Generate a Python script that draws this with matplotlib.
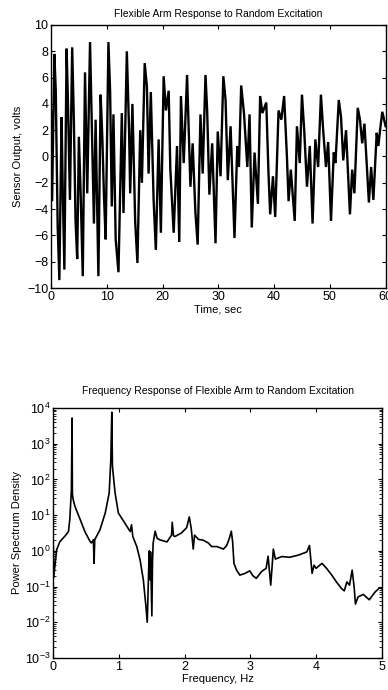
import matplotlib
matplotlib.use("Agg")
import matplotlib.pyplot as plt
from matplotlib.ticker import LogLocator, NullFormatter

plt.rcParams['font.family'] = ['Liberation Sans', 'DejaVu Sans']
plt.rcParams['mathtext.fontset'] = 'custom'
plt.rcParams['mathtext.rm'] = 'Liberation Sans'

# ---- Time response (extremes) ----
time_s = [0.0, 0.2, 0.6, 0.85, 1.2, 1.5, 1.9, 2.1, 2.4, 2.8, 3.05, 3.4, 3.8, 4.1, 4.4, 4.7,
          5.0, 5.3, 5.7, 6.1, 6.5, 7.0, 7.3, 7.7, 8.0, 8.5, 8.9, 9.2, 9.5, 9.8, 10.3, 10.6,
          10.9, 11.2, 11.6, 12.1, 12.7, 13.0, 13.6, 14.0, 14.2, 14.6, 15.1, 15.5, 16.0, 16.3,
          16.8, 17.2, 17.5, 17.9, 18.4, 18.8, 19.3, 19.7, 20.2, 20.6, 21.1, 21.4, 22.0, 22.6,
          23.0, 23.3, 23.8, 24.4, 25.0, 25.4, 25.9, 26.3, 26.8, 27.2, 27.7, 28.0, 28.4, 28.9,
          29.5, 29.9, 30.4, 30.9, 31.3, 31.7, 32.2, 32.9, 33.4, 33.7, 34.1, 34.6, 35.2, 35.6,
          36.0, 36.5, 37.1, 37.5, 37.9, 38.6, 39.0, 39.3, 39.8, 40.2, 40.8, 41.3, 41.8, 42.3,
          42.6, 43.0, 43.7, 44.1, 44.6, 45.0, 45.4, 45.9, 46.4, 46.9, 47.4, 47.9, 48.4, 48.8,
          49.3, 49.7, 50.2, 50.7, 51.0, 51.6, 52.0, 52.4, 52.9, 53.6, 54.0, 54.4, 55.0, 55.4,
          55.8, 56.2, 56.7, 57.0, 57.4, 57.8, 58.4, 58.7, 59.0, 59.4, 60.0]
sensor_v = [3.5, -3.4, 7.8, 5.1, -5.3, -9.4, 3.0, -2.3, -8.6, 8.2, 4.0, -3.3, 8.3, 2.8, -4.8, -7.8,
            1.5, -2.5, -9.1, 6.4, -2.8, 8.7, 2.8, -5.1, 2.8, -9.1, 4.7, 1.5, -3.0, -6.3, 8.7, 5.0,
            -3.8, 3.2, -6.3, -8.8, 3.3, -4.3, 8.0, 2.0, -2.8, 4.0, -5.0, -8.1, 2.0, -2.0,
            7.1, 5.3, -1.3, 4.9, -3.3, -7.1, 1.3, -5.8, 6.1, 3.5, 5.0, -1.0, -5.8, 0.8,
            -6.5, 4.6, -0.5, 6.2, -2.3, 1.0, -4.3, -6.7, 3.2, -1.3, 6.2, 3.5, -2.9, 1.0,
            -6.6, 1.9, -1.5, 6.1, 4.3, -1.8, 2.3, -6.2, 0.8, -0.8, 5.4, 3.3, -0.8, 3.2,
            -5.4, 0.3, -3.6, 4.6, 3.3, 4.1, -1.3, -4.4, -1.5, -4.6, 3.5, 2.8, 4.6, 0.0,
            -3.4, -1.0, -4.9, 2.3, -0.5, 4.7, 2.0, -2.3, 0.8, -5.1, 1.3, -0.8, 4.7, 2.0,
            -0.8, 1.1, -4.9, 0.3, -0.5, 4.3, 3.0, -0.3, 2.0, -4.4, -1.0, -2.8, 3.7, 2.8,
            1.0, 2.5, -1.3, -3.5, -0.8, -3.3, 1.8, 0.8, 2.0, 3.4, 2.3]

# ---- Power spectrum density ----
freq_hz = [0.0, 0.005, 0.05, 0.1, 0.18, 0.23, 0.25, 0.275, 0.285, 0.29, 0.30, 0.33, 0.41, 0.48,
           0.56, 0.58, 0.61, 0.62, 0.63, 0.71, 0.79, 0.85, 0.875, 0.89, 0.90, 0.94, 0.99, 1.07,
           1.17, 1.19, 1.21, 1.27, 1.32, 1.37, 1.41, 1.43, 1.45, 1.46, 1.47, 1.48, 1.50, 1.51,
           1.52, 1.55, 1.58, 1.62, 1.73, 1.80, 1.81, 1.83, 1.85, 1.95, 2.03, 2.07, 2.10, 2.13,
           2.15, 2.21, 2.28, 2.36, 2.41, 2.49, 2.59, 2.64, 2.68, 2.71, 2.73, 2.75, 2.79, 2.84,
           2.92, 2.99, 3.04, 3.09, 3.17, 3.24, 3.27, 3.31, 3.35, 3.38, 3.48, 3.60, 3.73, 3.86,
           3.90, 3.94, 3.97, 4.00, 4.09, 4.16, 4.24, 4.31, 4.39, 4.43, 4.47, 4.51, 4.55, 4.58,
           4.60, 4.64, 4.72, 4.81, 4.90, 4.97, 5.0]
psd_log10 = [0.12, -0.75, 0.03, 0.26, 0.42, 0.54, 0.87, 1.71, 3.72, 1.6, 1.45, 1.24, 0.87, 0.54,
             0.26, 0.22, 0.31, -0.35, 0.31, 0.59, 1.06, 1.62, 2.55, 3.88, 2.36, 1.62, 1.06, 0.83,
             0.54, 0.73, 0.40, 0.12, -0.25, -0.81, -1.56, -2.0, -0.62, 0.0, -0.81, -0.03, -1.82, -0.3,
             0.22, 0.55, 0.35, 0.31, 0.25, 0.44, 0.8, 0.42, 0.40, 0.50, 0.65, 0.95, 0.62, 0.05,
             0.44, 0.32, 0.30, 0.22, 0.12, 0.12, 0.05, 0.15, 0.35, 0.55, 0.25, -0.35, -0.54, -0.68,
             -0.63, -0.56, -0.70, -0.77, -0.58, -0.49, -0.15, -0.96, 0.05, -0.23, -0.16, -0.18, -0.12, -0.03,
             0.15, -0.63, -0.40, -0.49, -0.35, -0.49, -0.68, -0.87, -1.06, -1.12, -0.87, -0.96, -0.54, -1.01,
             -1.49, -1.29, -1.22, -1.37, -1.15, -1.03, -1.06]
psd = [10 ** v for v in psd_log10]

time_xticks = [0, 10, 20, 30, 40, 50, 60]
volt_yticks = [-10, -8, -6, -4, -2, 0, 2, 4, 6, 8, 10]
freq_xticks = [0, 1, 2, 3, 4, 5]

fig = plt.figure(figsize=(3.88, 6.90), dpi=100)

def style(ax):
    ax.tick_params(direction='in', top=True, right=True, length=3, width=0.8,
                   labelsize=9, pad=2)
    ax.tick_params(which='minor', direction='in', top=True, right=True, length=2, width=0.6)
    for s in ax.spines.values():
        s.set_linewidth(1.0)

ax1 = fig.add_axes([0.1314, 0.5826, 0.8625, 0.3812])
ax1.plot(time_s, sensor_v, color='black', lw=1.7, solid_joinstyle='miter')
ax1.set_xlim(0, 60)
ax1.set_ylim(-10, 10)
ax1.set_xticks(time_xticks)
ax1.set_yticks(volt_yticks)
style(ax1)
ax1.set_title('Flexible Arm Response to Random Excitation', fontsize=7.5, pad=6)
ax1.set_xlabel('Time, sec', fontsize=8, labelpad=1)
ax1.set_ylabel('Sensor Output, volts', fontsize=8, labelpad=3)

ax2 = fig.add_axes([0.1375, 0.0464, 0.8463, 0.3623])
ax2.semilogy(freq_hz, psd, color='black', lw=1.2)
ax2.set_xlim(0, 5)
ax2.set_ylim(1e-3, 1e4)
ax2.set_xticks(freq_xticks)
ax2.yaxis.set_major_locator(LogLocator(base=10, numticks=10))
ax2.yaxis.set_minor_locator(LogLocator(base=10, subs=range(2, 10), numticks=100))
ax2.yaxis.set_minor_formatter(NullFormatter())
style(ax2)
ax2.set_title('Frequency Response of Flexible Arm to Random Excitation', fontsize=7.5, pad=10)
ax2.set_xlabel('Frequency, Hz', fontsize=8, labelpad=1)
ax2.set_ylabel('Power Spectrum Density', fontsize=8, labelpad=2)

fig.savefig('out.png', dpi=100)
